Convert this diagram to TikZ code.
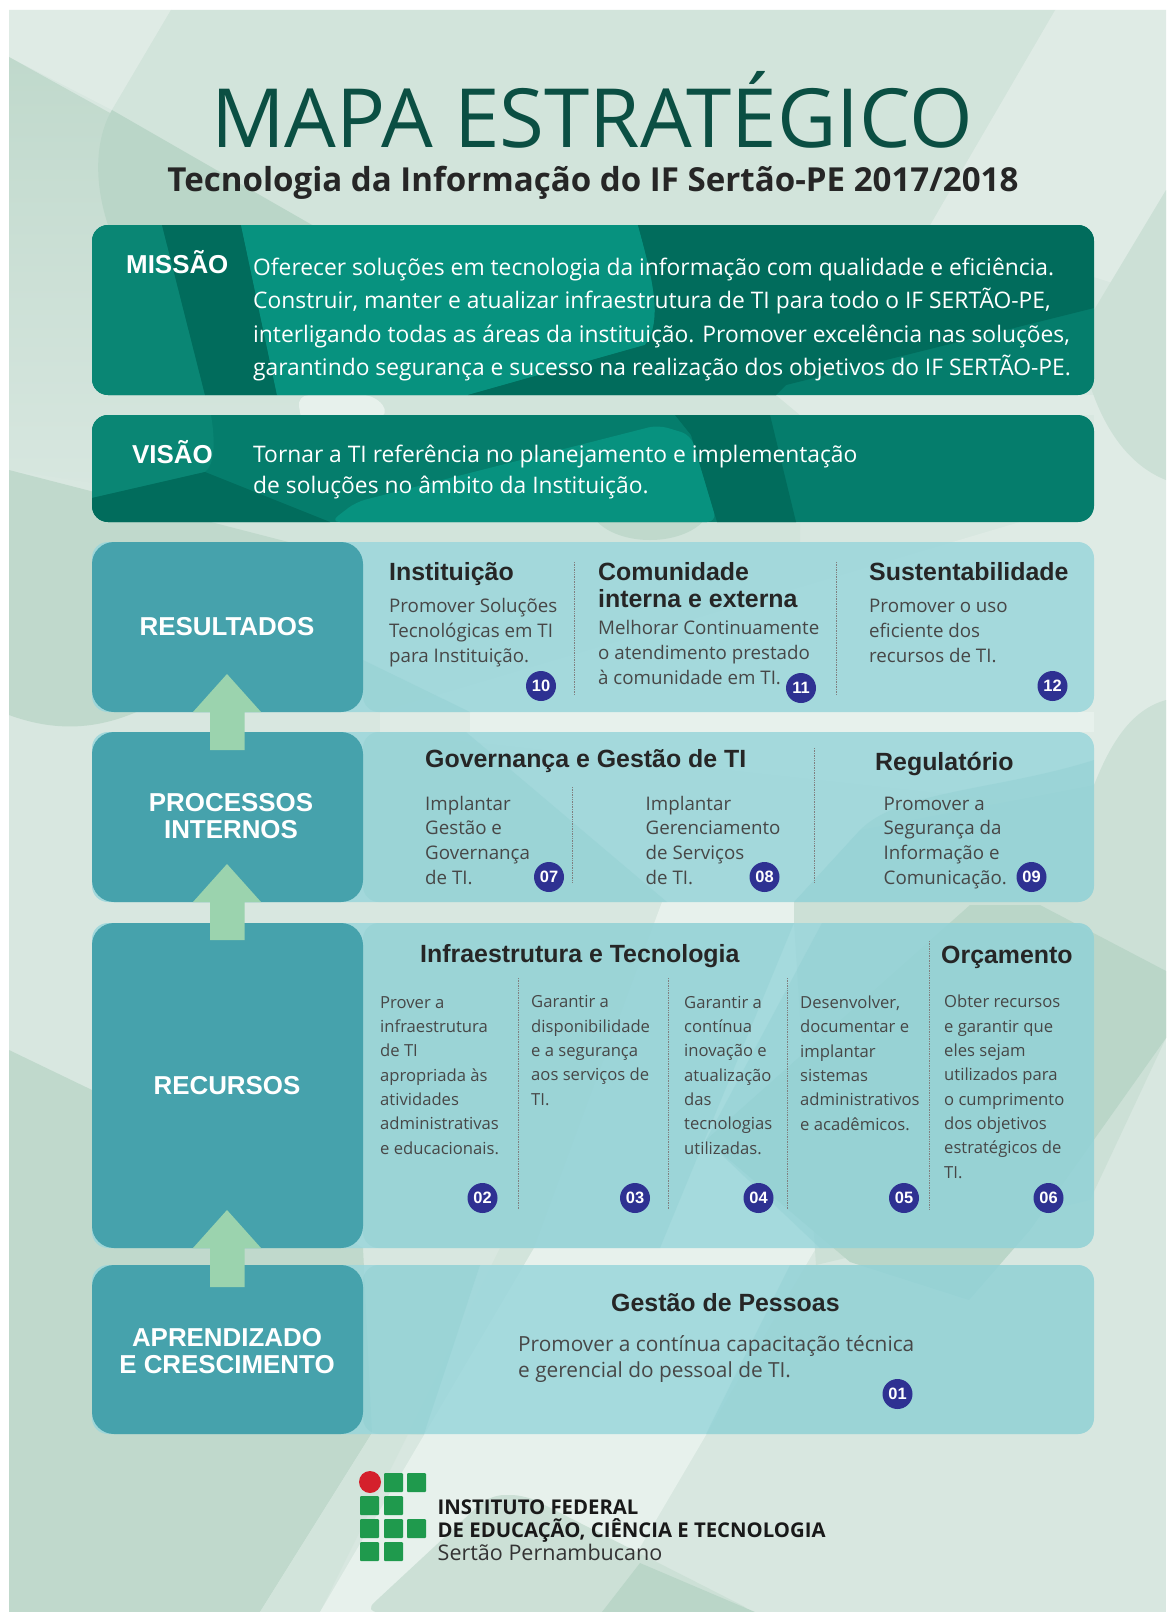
\documentclass[tikz,border=0pt]{standalone}
\usepackage{fontspec}
\setmainfont{Open Sans}
\newfontfamily\headfont{Liberation Sans}
\usetikzlibrary{positioning}
\definecolor{bgbase}{HTML}{D8E7E0}
\definecolor{bgmain}{HTML}{D2E4DB}
\definecolor{bgpale}{HTML}{DFEBE5}
\definecolor{bglight}{HTML}{E7F1EC}
\definecolor{bgmid}{HTML}{CCE0D6}
\definecolor{bgdark}{HTML}{C0D9CC}
\definecolor{bgdeep}{HTML}{BAD6C8}
\definecolor{titlegreen}{HTML}{0B4F43}
\definecolor{tealpanel}{HTML}{057D6C}
\definecolor{tealdark}{HTML}{016C5C}
\definecolor{tealsoft}{HTML}{0A8674}
\definecolor{teallight}{HTML}{07927F}
\definecolor{sidebox}{HTML}{46A2AC}
\definecolor{aquapanel}{HTML}{9AD6DB}
\definecolor{aquadark}{HTML}{7FC6C8}
\definecolor{uparrow}{HTML}{9BD3AE}
\definecolor{numblue}{HTML}{2E3192}
\definecolor{logogreen}{HTML}{1F9A4D}
\definecolor{logored}{HTML}{D4202C}
\tikzset{
    x=1bp, y=-1bp,
    topbox/.style={fill=tealpanel, rounded corners=16bp},
    rightbox/.style={fill=aquapanel, fill opacity=.85, rounded corners=16bp},
    leftbox/.style={fill=sidebox, rounded corners=22bp},
    bandaqua/.style={fill=aquadark, fill opacity=.22},
    bigarrow/.style={fill=uparrow},
    sepline/.style={draw=black!50, densely dotted, line width=.7pt},
    sidelabel/.style={font=\headfont\bfseries\fontsize{26}{27}\selectfont, text=white, align=center, inner sep=0pt},
    toplabel/.style={anchor=base west, font=\headfont\bfseries\fontsize{26}{27}\selectfont, text=white, inner sep=0pt},
    toptext/.style={anchor=base west, font=\fontsize{22.9}{33.5}\selectfont, text=white, align=left, inner sep=0pt},
    heading/.style={anchor=base west, font=\headfont\bfseries\fontsize{25}{27}\selectfont, text=black!85, align=left, inner sep=0pt},
    bodytext/.style={anchor=base west, font=\fontsize{18.8}{24.7}\selectfont, text=black!72, align=left, inner sep=0pt},
    smalltext/.style={anchor=base west, font=\fontsize{16.7}{24.4}\selectfont, text=black!72, align=left, inner sep=0pt},
    numdot/.style={circle, fill=numblue, text=white, minimum size=30bp, inner sep=0pt, font=\headfont\bfseries\fontsize{16.5}{16.5}\selectfont},
    logosq/.style={fill=logogreen, rounded corners=1bp},
}
\begin{document}
\begin{tikzpicture}
\useasboundingbox (0,0) rectangle (1166,1612);
\fill[white] (0,0) rectangle (1166,1612);
% background
\fill[bgbase] (9,10) rectangle (1166,1612);
\begin{scope}
\clip (9,10) rectangle (1166,1612);
\fill[bgpale] (9,10) -- (171,10) -- (112,110) -- (9,57) -- cycle;
\fill[bgpale] (1055,10) -- (1166,10) -- (1166,300) -- (930,225) -- cycle;
\fill[bgmain] (171,10) -- (1055,10) -- (930,225) -- (800,415) -- (800,542) -- (100,542) -- (108,225) .. controls (90,170) and (100,130) .. (112,110) -- cycle;
\shade[top color=bgdark, bottom color=bgbase] (9,57) -- (312,225) -- (330,395) -- (290,415) -- (240,505) -- (9,470) -- cycle;
\fill[bgdeep] (112,110) -- (312,225) -- (320,300) -- (108,300) -- (108,225) .. controls (90,170) and (100,130) .. (112,110) -- cycle;
\fill[bgdark] (9,470) -- (300,545) -- (160,700) .. controls (100,735) and (50,730) .. (9,715) -- cycle;
\fill[bglight, rounded corners=12bp] (297,395) -- (375,395) -- (390,415) -- (305,440) -- cycle;
\fill[bgpale] (776,395) -- (1094,395) -- (1094,415) -- (800,415) -- cycle;
\fill[bgdark] (650,505) ellipse (60 and 35);
\fill[bgpale] (1094,395) .. controls (1115,440) and (1140,470) .. (1166,480) -- (1166,810) -- (1094,810) -- (380,732) -- (380,712) -- (1094,500) -- cycle;
\fill[bglight] (470,712) -- (1094,712) -- (1094,732) -- (470,732) -- cycle;
\fill[bgmid] (1166,190) -- (1094,310) -- (1080,345) .. controls (1090,400) and (1115,460) .. (1166,480) -- cycle;
\fill[bgdark] (9,1050) -- (92,1090) -- (363,1248) -- (372,1433) -- (260,1612) -- (9,1612) -- cycle;
\fill[bgmain] (372,1433) -- (424,1435) -- (534,1248) -- (500,1248) -- (320,1612) -- (260,1612) -- cycle;
\fill[bglight] (424,1435) -- (534,1248) -- (662,902) -- (794,902) -- (816,1248) -- (706,1435) -- (602,1612) -- (320,1612) -- cycle;
\fill[bgmid] (1166,700) .. controls (1130,710) and (1110,745) .. (1094,785) -- (860,830) -- (794,902) -- (794,923) -- (816,1265) -- (1090,1200) -- (1166,1038) -- cycle;
\fill[bgdeep] (970,905) -- (1040,905) -- (1166,971) -- (1166,1038) -- (1030,1230) -- (969,1300) -- (850,1262) -- (706,1140) -- cycle;
\fill[bgmid, rounded corners=14bp] (364,1612) -- (490,1495) -- (525,1495) -- (755,1612) -- cycle;
\fill[bgdeep] (640,1563) -- (755,1612) -- (602,1612) -- cycle;
\end{scope}
% title
\node[anchor=base, inner sep=0pt, text=titlegreen, font=\fontsize{82}{82}\selectfont] (title) at (592,147) {MAPA ESTRATÉGICO};
\node[anchor=base, inner sep=0pt, text=black!85, font=\bfseries\fontsize{33.2}{35}\selectfont] (subtitle) at (593,191) {Tecnologia da Informação do IF Sertão-PE 2017/2018};
% missao and visao
\fill[topbox] (92,225) rectangle (1094,395);
\fill[topbox] (92,415) rectangle (1094,522);
\begin{scope}
\clip[rounded corners=16bp] (92,225) rectangle (1094,395);
\fill[tealsoft] (92,225) -- (162,225) -- (205,395) -- (92,395) -- cycle;
\fill[tealdark] (162,225) -- (241,225) -- (277,395) -- (205,395) -- cycle;
\fill[teallight] (241,225) -- (638,225) .. controls (650,270) and (665,320) .. (645,345) -- (468,395) -- (277,395) -- cycle;
\fill[tealdark] (638,225) -- (1094,225) -- (1094,308) -- (786,385) -- (776,395) -- (468,395) -- (645,345) .. controls (665,320) and (650,270) .. (638,225) -- cycle;
\end{scope}
\begin{scope}
\clip[rounded corners=16bp] (92,415) rectangle (1094,522);
\fill[tealsoft] (92,415) -- (211,415) .. controls (216,445) and (214,465) .. (205,472) -- (92,498) -- cycle;
\fill[tealdark] (92,498) -- (205,472) -- (330,522) -- (92,522) -- cycle;
\fill[teallight, rounded corners=10bp] (330,522) -- (356,502) -- (658,425) -- (691,435) -- (717,522) -- cycle;
\fill[tealdark] (691,435) -- (675,415) -- (770,415) -- (796,522) -- (717,522) -- cycle;
\end{scope}
\node[toplabel] (missao) at (126,273) {MISSÃO};
\node[toptext] (missaotext) at (253,375.5) {Oferecer soluções em tecnologia da informação com qualidade e eficiência.\\
Construir, manter e atualizar infraestrutura de TI para todo o IF SERTÃO-PE,\\
interligando todas as áreas da instituição. Promover excelência nas soluções,\\
garantindo segurança e sucesso na realização dos objetivos do IF SERTÃO-PE.};
\node[toplabel] (visao) at (132,463) {VISÃO};
\node[toptext, font=\fontsize{22.9}{30.5}\selectfont] (visaotext) at (253,493) {Tornar a TI referência no planejamento e implementação\\
de soluções no âmbito da Instituição.};
% right panels
\fill[rightbox] (92,542) rectangle (1094,712);
\fill[rightbox] (92,732) rectangle (1094,902);
\fill[rightbox] (92,923) rectangle (1094,1248);
\fill[rightbox] (92,1265) rectangle (1094,1434);
\begin{scope}
\clip[rounded corners=16bp] (363,542) rectangle (1094,712);
\fill[bandaqua] (363,660) -- (470,712) -- (363,712) -- cycle;
\end{scope}
\begin{scope}
\clip[rounded corners=16bp] (363,732) rectangle (1094,902);
\fill[bandaqua] (363,732) -- (466,732) -- (667,902) -- (363,902) -- cycle;
\fill[bandaqua] (794,902) -- (860,830) .. controls (900,790) and (1000,790) .. (1094,760) -- (1094,902) -- cycle;
\end{scope}
\begin{scope}
\clip[rounded corners=16bp] (363,923) rectangle (1094,1248);
\fill[bandaqua] (363,923) -- (794,923) -- (660,1248) -- (363,1248) -- cycle;
\fill[bandaqua] (822,923) -- (706,1140) -- (820,1248) -- (1094,1248) -- (1094,923) -- cycle;
\end{scope}
\begin{scope}
\clip[rounded corners=16bp] (363,1265) rectangle (1094,1434);
\fill[bandaqua] (790,1265) -- (1094,1265) -- (1094,1434) -- (706,1434) -- cycle;
\fill[bandaqua] (363,1265) -- (480,1265) -- (424,1434) -- (363,1434) -- cycle;
\end{scope}
% left boxes
\fill[leftbox] (92,542) rectangle (363,712);
\fill[leftbox] (92,732) rectangle (363,902);
\fill[leftbox] (92,923) rectangle (363,1248);
\fill[leftbox] (92,1265) rectangle (363,1434);
% arrows
\fill[bigarrow] (227,674) -- (261,712) -- (244.5,712) -- (244.5,750) -- (210,750) -- (210,712) -- (193,712) -- cycle;
\fill[bigarrow] (227,864) -- (261,902) -- (244.5,902) -- (244.5,940) -- (210,940) -- (210,902) -- (193,902) -- cycle;
\fill[bigarrow] (227,1210) -- (261,1248) -- (244.5,1248) -- (244.5,1287) -- (210,1287) -- (210,1248) -- (193,1248) -- cycle;
\node[sidelabel] (resultados) at (227,627) {RESULTADOS};
\node[sidelabel, anchor=base] (processos) at (231,838) {PROCESSOS\\INTERNOS};
\node[sidelabel] (recursos) at (227,1086) {RECURSOS};
\node[sidelabel, anchor=base] (aprendizado) at (227,1373) {APRENDIZADO\\E CRESCIMENTO};
% resultados
\node[heading] (instituicao) at (389,580) {Instituição};
\node[bodytext] (instituicaotext) at (389,662) {Promover Soluções\\Tecnológicas em TI\\para Instituição.};
\node[heading] (comunidade) at (598,607) {Comunidade\\interna e externa};
\node[bodytext] (comunidadetext) at (598,684) {Melhorar Continuamente\\o atendimento prestado\\à comunidade em TI.};
\node[heading] (sustentabilidade) at (869,580) {Sustentabilidade};
\node[bodytext] (sustentabilidadetext) at (869,662) {Promover o uso\\eficiente dos\\recursos de TI.};
\draw[sepline] (574,562) -- (574,695);
\draw[sepline] (836,562) -- (836,695);
\node[numdot] (n10) at (541,686) {10};
\node[numdot] (n11) at (801,688) {11};
\node[numdot] (n12) at (1052.5,686) {12};
% processos
\node[heading] (governanca) at (425,767) {Governança e Gestão de TI};
\node[heading] (regulatorio) at (875,770) {Regulatório};
\node[bodytext] (implantargestao) at (425,884) {Implantar\\Gestão e\\Governança\\de TI.};
\node[bodytext] (implantarserv) at (645.5,884) {Implantar\\Gerenciamento\\de Serviços\\de TI.};
\node[bodytext] (seguranca) at (883.5,884) {Promover a\\Segurança da\\Informação e\\Comunicação.};
\draw[sepline] (572.5,787) -- (572.5,882);
\draw[sepline] (814,748) -- (814,882);
\node[numdot] (n07) at (549,877) {07};
\node[numdot] (n08) at (764.5,877) {08};
\node[numdot] (n09) at (1031.5,877) {09};
% recursos
\node[heading] (infra) at (420,962) {Infraestrutura e Tecnologia};
\node[heading] (orcamento) at (941,963) {Orçamento};
\node[smalltext] (prover) at (380,1154) {Prover a\\infraestrutura\\de TI\\apropriada às\\atividades\\administrativas\\e educacionais.};
\node[smalltext] (garantir) at (531,1105) {Garantir a\\disponibilidade\\e a segurança\\aos serviços de\\TI.};
\node[smalltext] (continua) at (684,1154) {Garantir a\\contínua\\inovação e\\atualização\\das\\tecnologias\\utilizadas.};
\node[smalltext] (desenvolver) at (800,1130) {Desenvolver,\\documentar e\\implantar\\sistemas\\administrativos\\e acadêmicos.};
\node[smalltext] (obter) at (944,1178) {Obter recursos\\e garantir que\\eles sejam\\utilizados para\\o cumprimento\\dos objetivos\\estratégicos de\\TI.};
\draw[sepline] (518,978) -- (518,1210);
\draw[sepline] (668,978) -- (668,1210);
\draw[sepline] (787.5,978) -- (787.5,1210);
\draw[sepline] (929,941) -- (929,1210);
\node[numdot] (n02) at (482.5,1198) {02};
\node[numdot] (n03) at (635,1198) {03};
\node[numdot] (n04) at (758.5,1198) {04};
\node[numdot] (n05) at (904,1198) {05};
\node[numdot] (n06) at (1048.5,1198) {06};
% aprendizado
\node[heading] (pessoas) at (611,1311) {Gestão de Pessoas};
\node[bodytext, font=\fontsize{20.9}{26}\selectfont] (capacitacao) at (518,1377) {Promover a contínua capacitação técnica\\e gerencial do pessoal de TI.};
\node[numdot] (n01) at (897.5,1394) {01};
% logo
\fill[logored] (370,1482) circle (11);
\fill[logosq] (384,1473) rectangle (403,1492);
\fill[logosq] (407,1473) rectangle (426,1492);
\fill[logosq] (360,1496) rectangle (379,1515);
\fill[logosq] (384,1496) rectangle (403,1515);
\fill[logosq] (360,1519) rectangle (379,1538);
\fill[logosq] (384,1519) rectangle (403,1538);
\fill[logosq] (407,1519) rectangle (426,1538);
\fill[logosq] (360,1542) rectangle (379,1561);
\fill[logosq] (384,1542) rectangle (403,1561);
\node[anchor=base west, inner sep=0pt, align=left, text=black!90, font=\bfseries\fontsize{20.4}{22.5}\selectfont] (ifname) at (437.5,1537) {INSTITUTO FEDERAL\\DE EDUCAÇÃO, CIÊNCIA E TECNOLOGIA};
\node[anchor=base west, inner sep=0pt, text=black!80, font=\fontsize{21.6}{22}\selectfont] (sertao) at (437.5,1560) {Sertão Pernambucano};
\end{tikzpicture}
\end{document}
